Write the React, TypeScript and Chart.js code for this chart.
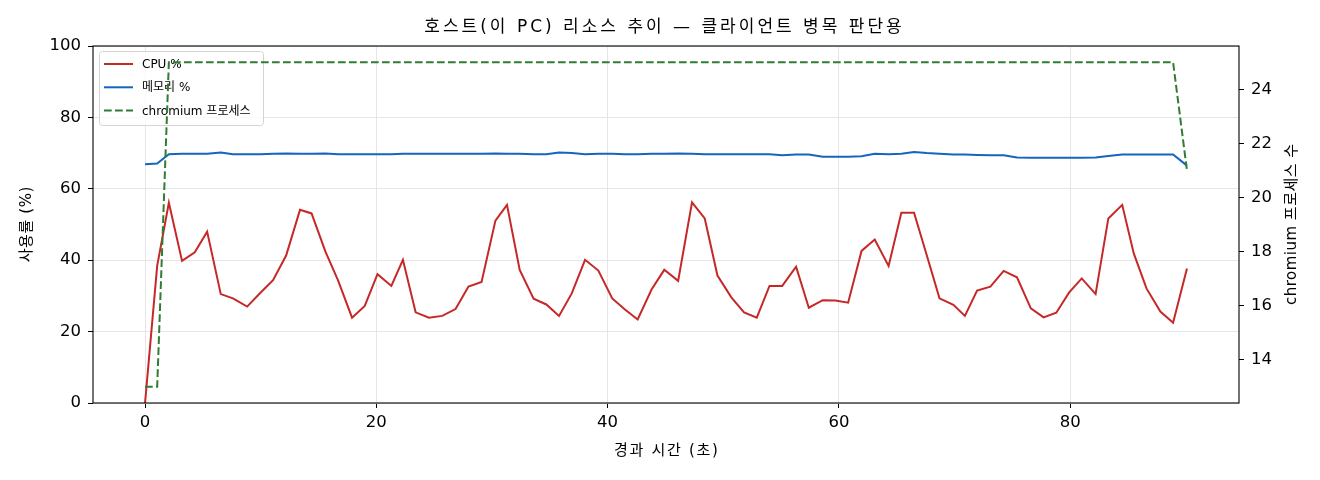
import React, { useEffect, useRef } from 'react';
import { Chart, registerables, Plugin } from 'chart.js';

Chart.register(...registerables);

// elapsed seconds for each sample
const times = [
  0, 1.05, 2.06, 3.2, 4.3, 5.37, 6.55, 7.6, 8.83, 9.98,
  11.07, 12.2, 13.4, 14.4, 15.6, 16.7, 17.9, 19.0, 20.1, 21.3,
  22.3, 23.4, 24.55, 25.7, 26.85, 27.97, 29.1, 30.3, 31.3, 32.4,
  33.6, 34.7, 35.8, 36.9, 38.05, 39.2, 40.4, 41.5, 42.6, 43.8,
  44.9, 46.1, 47.3, 48.4, 49.5, 50.7, 51.8, 52.9, 54.0, 55.1,
  56.3, 57.4, 58.6, 59.7, 60.8, 61.96, 63.1, 64.3, 65.4, 66.5,
  67.6, 68.7, 69.9, 70.9, 71.95, 73.1, 74.25, 75.4, 76.6, 77.7,
  78.8, 79.9, 81.0, 82.2, 83.3, 84.5, 85.5, 86.6, 87.8, 88.9,
  90.1,
];

const cpuPct = [
  0, 38.4, 56.1, 39.8, 42.2, 48.0, 30.5, 29.3, 27.0, 30.9,
  34.4, 41.3, 54.1, 53.1, 42.4, 34.3, 23.9, 27.2, 36.1, 32.8,
  40.1, 25.4, 23.9, 24.4, 26.3, 32.6, 33.9, 51.1, 55.5, 37.3,
  29.2, 27.6, 24.4, 30.7, 40.1, 37.1, 29.3, 26.2, 23.4, 31.8,
  37.3, 34.2, 56.2, 51.7, 35.7, 29.6, 25.4, 23.9, 32.8, 32.8,
  38.2, 26.7, 28.8, 28.7, 28.1, 42.6, 45.8, 38.4, 53.3, 53.3,
  41.4, 29.3, 27.5, 24.4, 31.5, 32.6, 37.0, 35.2, 26.5, 24.0,
  25.3, 30.9, 34.9, 30.5, 51.7, 55.5, 41.9, 32.1, 25.6, 22.5,
  37.7,
];

const memPct = [
  66.9, 67.1, 69.7, 69.8, 69.8, 69.8, 70.2, 69.7, 69.7, 69.7,
  69.8, 69.9, 69.8, 69.8, 69.9, 69.7, 69.7, 69.7, 69.7, 69.7,
  69.8, 69.8, 69.8, 69.8, 69.8, 69.8, 69.8, 69.9, 69.8, 69.8,
  69.7, 69.7, 70.2, 70.0, 69.7, 69.8, 69.8, 69.7, 69.7, 69.8,
  69.8, 69.9, 69.8, 69.7, 69.7, 69.7, 69.7, 69.7, 69.7, 69.4,
  69.6, 69.6, 69.0, 69.0, 69.0, 69.1, 69.8, 69.7, 69.8, 70.3,
  70.0, 69.8, 69.6, 69.6, 69.5, 69.4, 69.4, 68.8, 68.7, 68.7,
  68.7, 68.7, 68.7, 68.8, 69.2, 69.6, 69.6, 69.6, 69.6, 69.6,
  66.5,
];

const procCount = [
  13, 13, 25, 25, 25, 25, 25, 25, 25, 25,
  25, 25, 25, 25, 25, 25, 25, 25, 25, 25,
  25, 25, 25, 25, 25, 25, 25, 25, 25, 25,
  25, 25, 25, 25, 25, 25, 25, 25, 25, 25,
  25, 25, 25, 25, 25, 25, 25, 25, 25, 25,
  25, 25, 25, 25, 25, 25, 25, 25, 25, 25,
  25, 25, 25, 25, 25, 25, 25, 25, 25, 25,
  25, 25, 25, 25, 25, 25, 25, 25, 25, 25,
  21,
];

const seriesLabels = ['CPU %', '메모리 %', 'chromium 프로세스'];
const titleText = '호스트(이 PC) 리소스 추이 — 클라이언트 병목 판단용';
const xLabel = '경과 시간 (초)';
const yLeftLabel = '사용률 (%)';
const yRightLabel = 'chromium 프로세스 수';

// Latin from DejaVu (wide), Hangul falls through to Noto CJK
const FONT = "'DejaVu Sans', 'Noto Sans CJK KR', sans-serif";
const GRID = '#e6e6e6';

const toPoints = (vals: number[]) => vals.map((v, i) => ({ x: times[i], y: v }));

// text centred on (x, y), optionally rotated, with a little tracking
function drawText(ctx: CanvasRenderingContext2D, text: string, x: number, y: number, size: number, spacing: number, rot = 0) {
  ctx.save();
  ctx.translate(x, y);
  ctx.rotate(rot);
  ctx.font = `${size}px ${FONT}`;
  (ctx as any).letterSpacing = `${spacing}px`;
  ctx.fillStyle = '#000';
  ctx.textAlign = 'center';
  ctx.textBaseline = 'middle';
  ctx.fillText(text, spacing / 2, 0);
  ctx.restore();
}

// legend sits under the twin-axis line, like matplotlib
const legendPlugin: Plugin<'line'> = {
  id: 'boxLegend',
  afterDatasetDraw(chart, args) {
    if (args.index !== 1) return;
    const ctx = chart.ctx;
    const x0 = chart.chartArea.left + 6;
    const y0 = chart.chartArea.top + 5;
    ctx.save();
    ctx.beginPath();
    ctx.roundRect(x0 + 0.5, y0 + 0.5, 164, 74, 3);
    ctx.fillStyle = 'rgba(255,255,255,0.8)';
    ctx.fill();
    ctx.strokeStyle = '#d4d4d4';
    ctx.lineWidth = 1;
    ctx.stroke();
    ctx.font = `12px ${FONT}`;
    ctx.textBaseline = 'middle';
    ctx.fillStyle = '#000';
    chart.data.datasets.forEach((ds: any, i) => {
      const cy = y0 + 13 + i * 23.3;
      ctx.beginPath();
      ctx.strokeStyle = ds.borderColor;
      ctx.lineWidth = 2;
      ctx.setLineDash(ds.borderDash || []);
      ctx.moveTo(x0 + 5, cy);
      ctx.lineTo(x0 + 34, cy);
      ctx.stroke();
      ctx.setLineDash([]);
      ctx.fillText(ds.label, x0 + 43, cy + 1);
    });
    ctx.restore();
  },
};

const framePlugin: Plugin<'line'> = {
  id: 'frame',
  afterDraw(chart) {
    const { ctx, chartArea } = chart;
    ctx.save();
    ctx.strokeStyle = '#000';
    ctx.lineWidth = 1.1;
    ctx.strokeRect(chartArea.left, chartArea.top, chartArea.right - chartArea.left, chartArea.bottom - chartArea.top);
    ctx.restore();
    const midY = (chartArea.top + chartArea.bottom) / 2;
    drawText(ctx, titleText, 663, 27.5, 17, 3);
    drawText(ctx, xLabel, (chartArea.left + chartArea.right) / 2, 451, 15, 1.7);
    drawText(ctx, yLeftLabel, 27, midY, 15, 0.6, -Math.PI / 2);
    drawText(ctx, yRightLabel, 1292, midY, 15, 0.5, -Math.PI / 2);
  },
};

const App: React.FC = () => {
  const canvasRef = useRef<HTMLCanvasElement | null>(null);
  const chartRef = useRef<Chart<'line'> | null>(null);

  useEffect(() => {
    if (!canvasRef.current) return;
    if (chartRef.current) chartRef.current.destroy();

    Chart.defaults.font.family = FONT;
    Chart.defaults.color = '#000';

    const tickFont = { size: 16.5 };

    chartRef.current = new Chart(canvasRef.current, {
      type: 'line',
      data: {
        datasets: [
          {
            label: seriesLabels[0],
            data: toPoints(cpuPct),
            borderColor: '#c62828',
            borderWidth: 2,
            pointRadius: 0,
            yAxisID: 'y',
            order: 2,
          },
          {
            label: seriesLabels[1],
            data: toPoints(memPct),
            borderColor: '#1565c0',
            borderWidth: 2,
            pointRadius: 0,
            yAxisID: 'y',
            order: 1,
          },
          {
            label: seriesLabels[2],
            data: toPoints(procCount),
            borderColor: '#2e7d32',
            borderWidth: 2,
            borderDash: [7.7, 3.3],
            pointRadius: 0,
            yAxisID: 'y2',
            order: 0,
          },
        ],
      },
      options: {
        animation: false,
        responsive: false,
        devicePixelRatio: 1,
        layout: { padding: { top: 46, left: 0, right: 0, bottom: 0 } },
        plugins: {
          legend: { display: false },
          tooltip: { enabled: false },
          title: { display: false },
        },
        scales: {
          x: {
            type: 'linear',
            min: -4.5,
            max: 94.6,
            afterFit: (s) => { s.height = 77; },
            ticks: { stepSize: 20, includeBounds: false, padding: 5, font: tickFont },
            grid: { color: GRID, tickColor: '#000', tickLength: 5, lineWidth: 1 },
            border: { display: false },
          },
          y: {
            type: 'linear',
            position: 'left',
            min: 0,
            max: 100,
            afterFit: (s) => { s.width = 93; },
            ticks: { stepSize: 20, padding: 7, font: tickFont },
            grid: { color: GRID, tickColor: '#000', tickLength: 5 },
            border: { display: false },
          },
          y2: {
            type: 'linear',
            position: 'right',
            min: 12.4,
            max: 25.6,
            afterFit: (s) => { s.width = 81; },
            ticks: { stepSize: 2, includeBounds: false, padding: 7, font: tickFont },
            grid: { drawOnChartArea: false, tickColor: '#000', tickLength: 5 },
            border: { display: false },
          },
        },
      },
      plugins: [legendPlugin, framePlugin],
    });

    return () => {
      if (chartRef.current) {
        chartRef.current.destroy();
        chartRef.current = null;
      }
    };
  }, []);

  return (
    <div style={{ position: 'fixed', left: 0, top: 0, width: 1320, height: 480, background: '#fff' }}>
      <canvas ref={canvasRef} width={1320} height={480}></canvas>
    </div>
  );
};

export default App;
